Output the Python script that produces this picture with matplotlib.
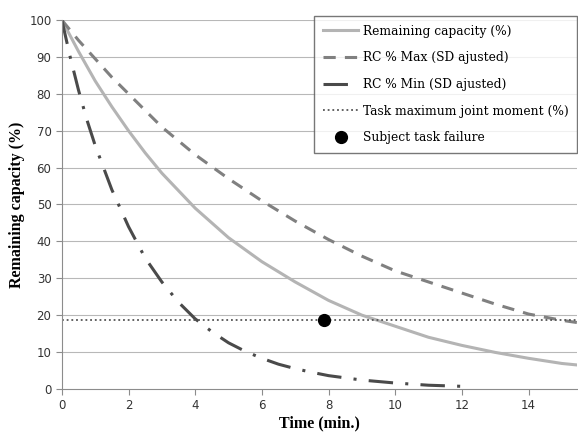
import matplotlib
matplotlib.use("Agg")
import matplotlib.pyplot as plt

# Data
t_rc = [0, 0.5, 1, 1.5, 2, 2.5, 3, 4, 5, 6, 7, 8, 9, 10, 11, 12, 13, 14, 15, 15.45]
rc = [100, 91.5, 83.5, 76.5, 70, 64, 58.5, 49, 41, 34.5, 29, 24, 20, 17, 14, 11.8, 9.9, 8.3, 6.9, 6.5]

t_max = [0, 0.5, 1, 1.5, 2, 3, 4, 5, 6, 7, 8, 9, 10, 11, 12, 13, 14, 15, 15.45]
rc_max = [100, 94.5, 89.5, 84.5, 80, 71, 63.5, 57, 51, 45.5, 40.5, 36, 32, 29, 26, 23, 20.3, 18.6, 18.0]

t_min = [0, 0.25, 0.5, 0.75, 1, 1.5, 2, 2.5, 3, 3.5, 4, 4.5, 5, 5.5, 6, 6.5, 7, 7.5, 8, 9, 10, 11, 12]
rc_min = [100, 90, 81, 73, 66, 54, 44, 35.5, 29, 23.5, 19, 15.5, 12.5, 10.2, 8.3, 6.7, 5.5, 4.5, 3.6, 2.4, 1.6, 1.0, 0.7]

task_moment = 18.7
failure_t = [7.85]
failure_v = [18.7]

xticks = [0, 2, 4, 6, 8, 10, 12, 14]
yticks = [0, 10, 20, 30, 40, 50, 60, 70, 80, 90, 100]

fig = plt.figure(figsize=(5.78, 4.36), dpi=100)
ax = fig.add_axes([0.107, 0.108, 0.891, 0.846])

for y in yticks[1:]:
    ax.axhline(y, color="#b8b8b8", lw=0.8, zorder=0)

ax.plot(t_rc, rc, color="#b4b4b4", lw=2.2, label="Remaining capacity (%)")
ax.plot(t_max, rc_max, color="#808080", lw=2.2, ls=(0, (4, 3)), label="RC % Max (SD ajusted)")
ax.plot(t_min, rc_min, color="#4a4a4a", lw=2.2, ls=(0, (8, 4, 1, 4)), label="RC % Min (SD ajusted)")
ax.axhline(task_moment, color="#555555", lw=1.3, ls=(0, (1, 1.6)), label="Task maximum joint moment (%)")
ax.plot(failure_t, failure_v, "o", color="black", ms=8.5, ls="none", label="Subject task failure", zorder=5)

ax.set_xlim(0, 15.45)
ax.set_ylim(0, 100)
ax.set_xticks(xticks)
ax.set_yticks(yticks)
for s in ["top", "right"]:
    ax.spines[s].set_visible(False)
for s in ["left", "bottom"]:
    ax.spines[s].set_color("#8c8c8c")
    ax.spines[s].set_linewidth(0.8)
ax.tick_params(axis="both", colors="#8c8c8c", labelcolor="#333333", labelsize=8.5, length=4, width=0.8)
for lab in ax.get_xticklabels() + ax.get_yticklabels():
    lab.set_family("DejaVu Sans")

ax.set_xlabel("Time (min.)", family="Liberation Serif", fontweight="bold", fontsize=11.5, labelpad=2)
ax.set_ylabel("Remaining capacity (%)", family="Liberation Serif", fontweight="bold", fontsize=11.5, labelpad=3)

leg = ax.legend(loc="upper right", bbox_to_anchor=(1.0, 1.011), borderaxespad=0,
                prop={"family": "DejaVu Serif", "size": 8.8},
                frameon=True, fancybox=False, edgecolor="#555555", handlelength=2.9,
                labelspacing=1.12, borderpad=0.7, handletextpad=0.35)
leg.get_frame().set_linewidth(1.0)

fig.savefig("out.png", dpi=100)
